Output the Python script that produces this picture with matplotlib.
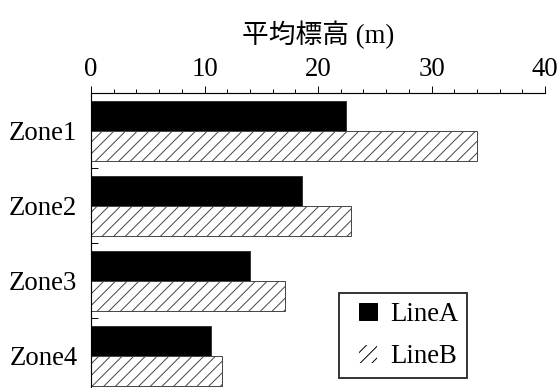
import numpy as np
import matplotlib
matplotlib.use("Agg")
import matplotlib.pyplot as plt
from matplotlib.patches import Patch, Rectangle
from matplotlib.legend_handler import HandlerPatch
from matplotlib.ticker import MultipleLocator

# Data
zones = ["Zone1", "Zone2", "Zone3", "Zone4"]
line_a = [22.5, 18.6, 14.0, 10.6]
line_b = [34.0, 22.9, 17.1, 11.5]
x_ticks = [0, 10, 20, 30, 40]

DPI = 70
plt.rcParams['font.family'] = ['Liberation Serif', 'Noto Sans CJK JP']
plt.rcParams['hatch.color'] = 'black'
plt.rcParams['hatch.linewidth'] = 1.0
FS = 27.5

fig = plt.figure(figsize=(560 / DPI, 388 / DPI), dpi=DPI)
ax = fig.add_axes([91 / 560, 1 - 393.3 / 388, 454 / 560, 300 / 388])

y = np.arange(len(zones))
h = 0.4
ax.barh(y - h / 2, line_a, height=h, color='black', edgecolor='#333333', linewidth=1.0)
ax.barh(y + h / 2, line_b, height=h, color='white', edgecolor='#444444',
        linewidth=1.0, hatch='//')

ax.set_xlim(0, 40)
ax.set_ylim(3.5, -0.5)

# x axis on top with minor ticks every 2
ax.xaxis.tick_top()
ax.xaxis.set_label_position('top')
ax.set_xticks(x_ticks)
ax.xaxis.set_minor_locator(MultipleLocator(2))
ax.tick_params(axis='x', which='major', direction='out', length=7, width=1.0,
               labelsize=FS, pad=5)
ax.tick_params(axis='x', which='minor', direction='out', length=4, width=1.0)
ax.set_xlabel("平均標高 (m)", fontsize=FS, labelpad=14)

# y axis: labels at centres, tick marks only between groups
ax.set_yticks(y)
ax.set_yticklabels(zones)
ax.set_yticks([0.5, 1.5, 2.5], minor=True)
ax.tick_params(axis='y', which='major', length=0, labelsize=FS, pad=14)
ax.tick_params(axis='y', which='minor', direction='in', length=7, width=1.0)

for side in ['right', 'bottom']:
    ax.spines[side].set_visible(False)
for side in ['top', 'left']:
    ax.spines[side].set_linewidth(1.2)


# small square legend keys, pushed to the right of the handle box
def small_key(legend, orig_handle, xdescent, ydescent, width, height, fontsize):
    w = 18 * 72 / DPI
    return Rectangle((-xdescent + width - w, -ydescent), w, height)


handles = [Patch(facecolor='black', edgecolor='black'),
           Patch(facecolor='white', hatch='//')]
leg = fig.legend(handles, ["LineA", "LineB"], loc='lower right',
                 bbox_to_anchor=(467 / 560, 1 - 378 / 388),
                 bbox_transform=fig.transFigure, borderaxespad=0,
                 fontsize=FS, frameon=True, fancybox=False,
                 handlelength=1.085, handleheight=0.63, handletextpad=0.48,
                 borderpad=0.33, labelspacing=0.65,
                 handler_map={Patch: HandlerPatch(patch_func=small_key)})
leg.get_frame().set_edgecolor('black')
leg.get_frame().set_linewidth(2.0)

fig.savefig("out.png", dpi=DPI)
